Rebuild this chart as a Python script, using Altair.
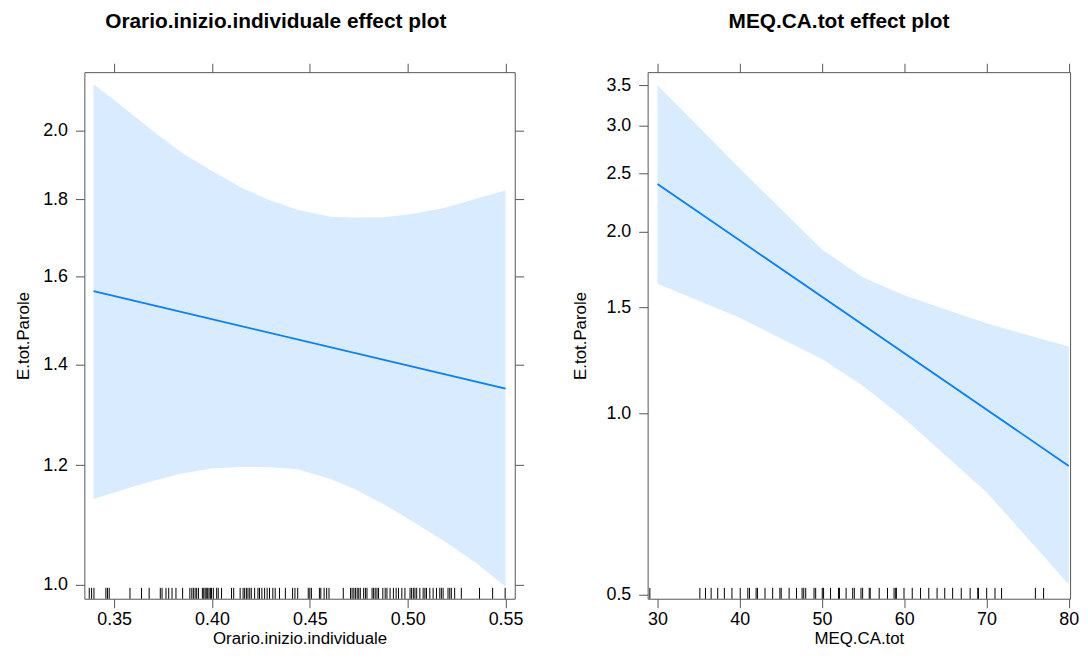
import altair as alt
import pandas as pd

# ---------------- Left panel: Orario.inizio.individuale ----------------
orario_band_x = [0.3395, 0.3525, 0.3677, 0.3846, 0.3998, 0.4150, 0.4285, 0.4437,
                 0.4606, 0.4725, 0.4877, 0.5012, 0.5181, 0.5350, 0.55]
orario_upper = [2.146, 2.083, 2.008, 1.933, 1.881, 1.833, 1.800, 1.772,
                1.753, 1.751, 1.752, 1.760, 1.776, 1.802, 1.825]
orario_lower = [1.140, 1.154, 1.170, 1.185, 1.194, 1.197, 1.197, 1.193,
                1.175, 1.158, 1.131, 1.104, 1.070, 1.034, 0.997]
orario_fit_x = [0.3395, 0.55]
orario_fit = [1.565, 1.349]
orario_rug = [0.3373, 0.3385, 0.3397, 0.3458, 0.3466, 0.3475, 0.3581, 0.3640, 0.3679,
              0.3736, 0.3745, 0.3765, 0.3779, 0.3796, 0.3816, 0.3850, 0.3887, 0.3897,
              0.3905, 0.3914, 0.3922, 0.3931, 0.3951, 0.3958, 0.3965, 0.3971, 0.3978,
              0.3985, 0.3992, 0.3998, 0.4007, 0.4024, 0.4032, 0.4049, 0.4100, 0.4111,
              0.4144, 0.4159, 0.4167, 0.4176, 0.4184, 0.4193, 0.4201, 0.4218, 0.4235,
              0.4243, 0.4255, 0.4269, 0.4282, 0.4294, 0.4311, 0.4323, 0.4345, 0.4375,
              0.4412, 0.4424, 0.4438, 0.4492, 0.4500, 0.4508, 0.4549, 0.4556, 0.4573,
              0.4586, 0.4598, 0.4671, 0.4708, 0.4716, 0.4725, 0.4733, 0.4742, 0.4750,
              0.4758, 0.4775, 0.4784, 0.4792, 0.4818, 0.4826, 0.4834, 0.4843, 0.4851,
              0.4873, 0.4885, 0.4894, 0.4910, 0.4927, 0.4941, 0.4953, 0.4970, 0.4986,
              0.5012, 0.5020, 0.5029, 0.5037, 0.5046, 0.5062, 0.5079, 0.5088, 0.5096,
              0.5113, 0.5130, 0.5147, 0.5164, 0.5172, 0.5181, 0.5206, 0.5215, 0.5223,
              0.5240, 0.5274, 0.5367, 0.5434, 0.5498]
orario_xticks = [0.35, 0.40, 0.45, 0.50, 0.55]
orario_yticks = [1.0, 1.2, 1.4, 1.6, 1.8, 2.0]

# ---------------- Right panel: MEQ.CA.tot ----------------
meq_band_x = [30, 40, 50, 55, 60, 70, 80]
meq_upper = [3.50, 2.55, 1.87, 1.68, 1.57, 1.41, 1.29]
meq_lower = [1.64, 1.44, 1.23, 1.11, 0.98, 0.74, 0.52]
meq_fit_x = [30, 80]
meq_fit = [2.40, 0.818]
meq_rug = [29.07, 35.15, 35.83, 36.52, 37.32, 38.13, 39.05, 40.06, 40.98, 41.18, 41.99,
           42.15, 43.07, 44.0, 44.88, 45.04, 46.0, 46.9, 47.58, 47.78, 48.02, 49.03,
           49.23, 50.03, 50.19, 51.04, 52.0, 52.12, 52.93, 53.73, 53.93, 54.74, 54.94,
           55.74, 55.86, 56.95, 57.96, 58.76, 58.96, 59.04, 59.97, 60.97, 61.98, 62.98,
           63.99, 64.92, 65.88, 66.93, 68.01, 68.94, 69.02, 70.02, 71.03, 71.83, 75.94,
           76.94]
meq_xticks = [30, 40, 50, 60, 70, 80]
meq_yticks = [0.5, 1.0, 1.5, 2.0, 2.5, 3.0, 3.5]

BAND = "#D9ECFF"
LINE = "#0080FF"
FONT = "Liberation Sans"
H = 531
TICK = 9


def panel(title, xtitle, bx, lo, hi, fx, fy, rug, xdom, xticks, xfmt, ydom, yticks,
          width, right_ticks, title_dx, ytitle_pad):
    band_df = pd.DataFrame({"x": bx, "lo": lo, "hi": hi})
    line_df = pd.DataFrame({"x": fx, "fit": fy})
    rug_df = pd.DataFrame({"r": rug})
    xs = alt.Scale(domain=xdom, nice=False, zero=False)
    ys = alt.Scale(type="log", domain=ydom, nice=False)

    band = alt.Chart(band_df).mark_area(color=BAND, opacity=1).encode(
        x=alt.X("x:Q", scale=xs, title=xtitle,
                axis=alt.Axis(orient="bottom", values=xticks, format=xfmt,
                              labelPadding=3, titlePadding=2)),
        y=alt.Y("lo:Q", scale=ys, title="E.tot.Parole",
                axis=alt.Axis(orient="left", values=yticks, format=".1f",
                              labelPadding=8, minExtent=43, maxExtent=43,
                              titlePadding=ytitle_pad)),
        y2="hi:Q",
    )
    if right_ticks:
        yax = alt.Axis(orient="right", values=yticks, labels=False, title=None)
    else:
        yax = None
    line = alt.Chart(line_df).mark_line(color=LINE, strokeWidth=1.8).encode(
        x=alt.X("x:Q", scale=xs,
                axis=alt.Axis(orient="top", values=xticks, labels=False, title=None)),
        y=alt.Y("fit:Q", scale=ys, axis=yax),
    )
    rugs = alt.Chart(rug_df).mark_rule(color="black", strokeWidth=1).encode(
        x=alt.X("r:Q", scale=xs, axis=None),
        y=alt.value(H - 11),
        y2=alt.value(H),
    )
    return alt.layer(band, line, rugs).resolve_axis(
        x="independent", y="independent"
    ).properties(
        width=width, height=H,
        title=alt.TitleParams(title, dx=title_dx, frame="group"),
    )


left = panel("Orario.inizio.individuale effect plot", "Orario.inizio.individuale",
             orario_band_x, orario_lower, orario_upper, orario_fit_x, orario_fit,
             orario_rug, [0.3348, 0.5547], orario_xticks, ".2f", [0.979, 2.186],
             orario_yticks, 434, True, -24, 9)
right = panel("MEQ.CA.tot effect plot", "MEQ.CA.tot",
              meq_band_x, meq_lower, meq_upper, meq_fit_x, meq_fit,
              meq_rug, [28.8, 80.16], meq_xticks, "d", [0.4925, 3.68],
              meq_yticks, 426, False, -20, 16)

chart = alt.hconcat(left, right, spacing=46).configure_view(
    stroke="#555555", strokeWidth=1
).configure_axis(
    labelFont=FONT, labelFontSize=18, labelColor="black",
    titleFont=FONT, titleFontSize=17, titleFontWeight="normal", titleColor="black",
    tickColor="#555555", tickSize=TICK, domain=False, grid=False,
).configure_title(
    font=FONT, fontSize=21, fontWeight="bold", color="black", anchor="middle", offset=31,
).properties(
    padding={"left": 6, "top": 0, "right": 0, "bottom": 0}
)

chart.save("out.html", embed_options={"renderer": "svg", "actions": False})
